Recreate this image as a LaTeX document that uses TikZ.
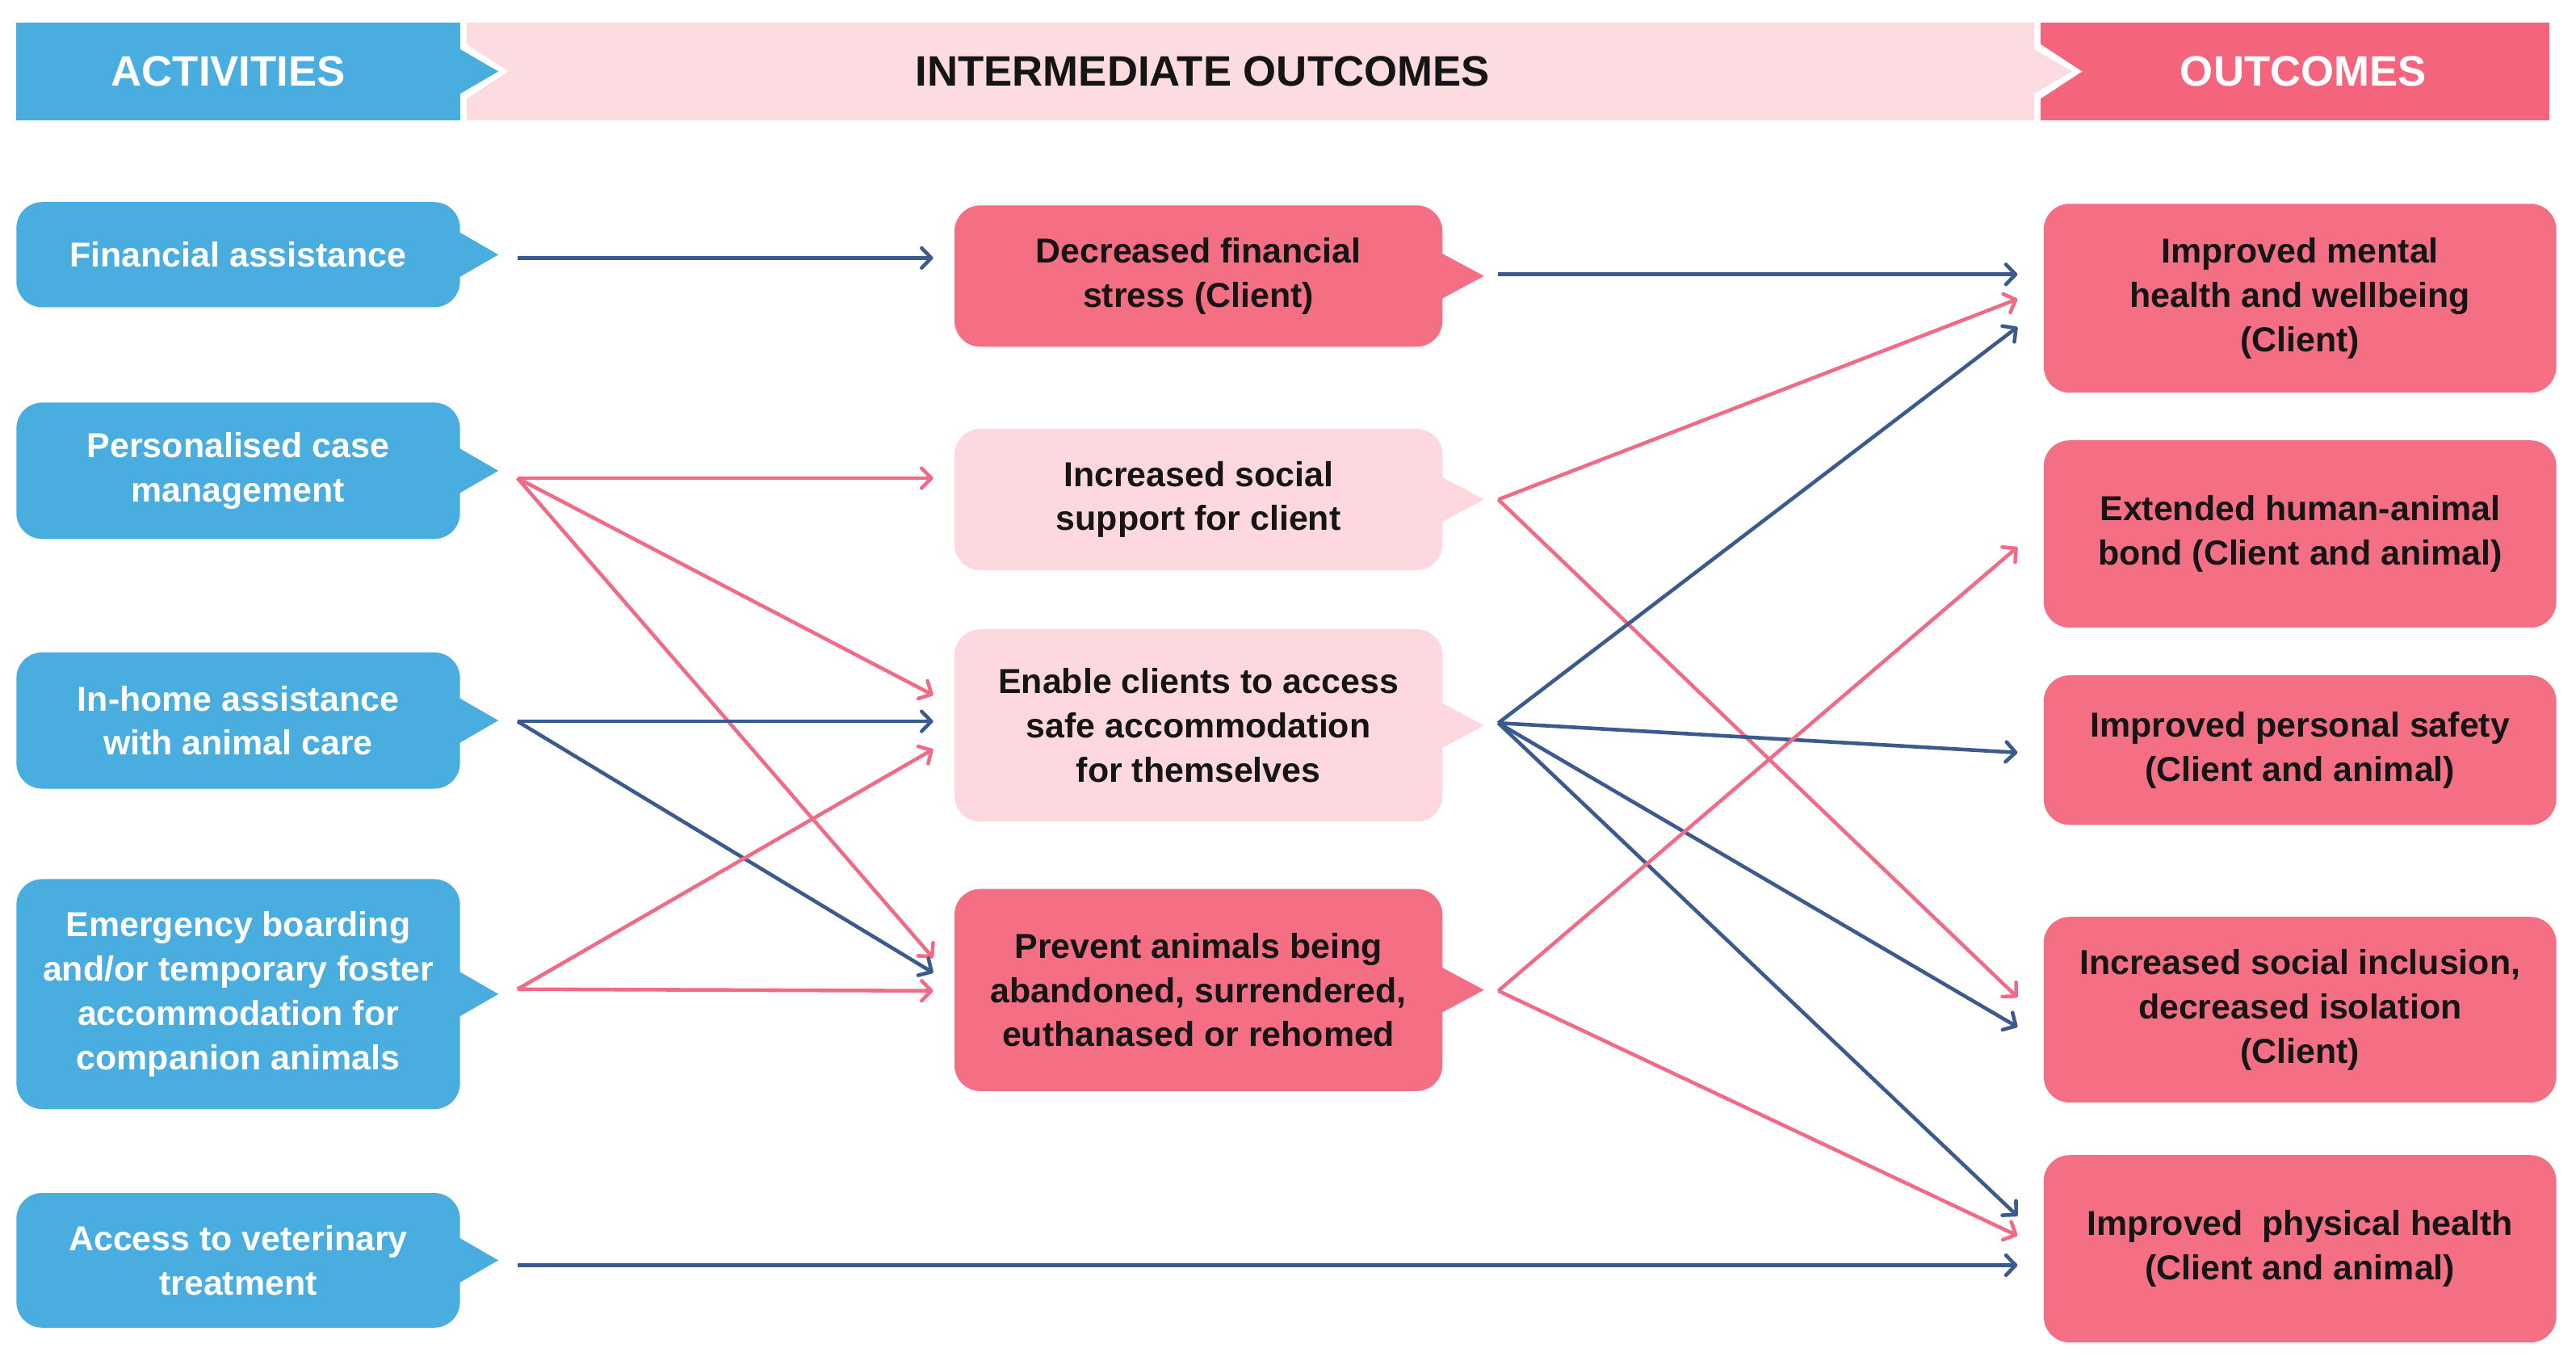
\documentclass[tikz,border=0pt]{standalone}
\usepackage{fontspec}
\setmainfont{Liberation Sans}
\usetikzlibrary{calc,arrows.meta}
\definecolor{actblue}{HTML}{4AADDF}
\definecolor{boxpink}{HTML}{F46E84}
\definecolor{lightpink}{HTML}{FDD8DE}
\definecolor{bandpink}{HTML}{FDDCE1}
\definecolor{outpink}{HTML}{F4647C}
\definecolor{navy}{HTML}{3B5B8F}
\definecolor{arrpink}{HTML}{F06B86}
\definecolor{ink}{HTML}{151515}
\begin{document}
\begin{tikzpicture}[x=0.02034cm,y=-0.02034cm,
  bx/.style 2 args={minimum width=#1*0.02034cm, minimum height=#2*0.02034cm},
  box/.style={inner sep=0pt, rounded corners=0.32cm, align=center,
    font=\fontsize{12.2}{15.6}\selectfont\bfseries},
  act/.style={box, fill=actblue, text=white},
  midd/.style={box, fill=boxpink, text=ink},
  midl/.style={box, fill=lightpink, text=ink},
  outc/.style={box, fill=boxpink, text=ink},
  hbox/.style={inner sep=0pt},
  hdr/.style={inner sep=0pt, font=\fontsize{15}{18}\selectfont\bfseries},
  lnb/.style={draw=navy, line width=1.3pt, -{Straight Barb[length=3.4pt,width=7pt,round]}},
  lnp/.style={draw=arrpink, line width=1.3pt, -{Straight Barb[length=3.4pt,width=7pt,round]}}]
\useasboundingbox (0,0) rectangle (1568,833);
% ---------- header ----------
\node[hbox, bx={954}{59}, fill=bandpink] (hI) at (761,43.5) {};
\node[hbox, bx={310}{59}, fill=outpink] (hO) at (1397,43.5) {};
\fill[white] ($(hI.east)+(0,-19)$) -- ($(hI.east)+(29,0)$) -- ($(hI.east)+(0,19)$) -- cycle;
\fill[bandpink] ($(hI.east)+(-1,-14)$) -- ($(hI.east)+(23,0)$) -- ($(hI.east)+(-1,14)$) -- cycle;
\node[hbox, bx={270}{59}, fill=actblue] (hA) at (145,43.5) {};
\fill[white] ($(hA.east)+(0,-19)$) -- ($(hA.east)+(29,0)$) -- ($(hA.east)+(0,19)$) -- cycle;
\fill[actblue] ($(hA.east)+(-1,-14)$) -- ($(hA.east)+(23,0)$) -- ($(hA.east)+(-1,14)$) -- cycle;
\node[hdr, text=white] (hAt) at (139,43.5) {ACTIVITIES};
\node[hdr, text=ink] (hIt) at (732,43.5) {INTERMEDIATE OUTCOMES};
\node[hdr, text=white] (hOt) at (1402,43.5) {OUTCOMES};
% ---------- activities ----------
\node[act, bx={270}{64}] (a1) at (145,155) {Financial assistance};
\node[act, bx={270}{83}] (a2) at (145,286.5) {Personalised case\\management};
\node[act, bx={270}{83}] (a3) at (145,438.5) {In-home assistance\\with animal care};
\node[act, bx={270}{140}] (a4) at (145,605) {Emergency boarding\\and/or temporary foster\\accommodation for\\companion animals};
\node[act, bx={270}{82}] (a5) at (145,767) {Access to veterinary\\treatment};
\foreach \n in {a1,a2,a3,a4,a5}
  \fill[actblue] ($(\n.east)+(-3,-15)$) -- ($(\n.east)+(23,0)$) -- ($(\n.east)+(-3,15)$) -- cycle;
% ---------- intermediate ----------
\node[midd, bx={297}{86}] (m1) at (729.5,168) {Decreased financial\\stress (Client)};
\node[midl, bx={297}{86}] (m2) at (729.5,304) {Increased social\\support for client};
\node[midl, bx={297}{117}] (m3) at (729.5,441.5) {Enable clients to access\\safe accommodation\\for themselves};
\node[midd, bx={297}{123}] (m4) at (729.5,602.5) {Prevent animals being\\abandoned, surrendered,\\euthanased or rehomed};
\foreach \n/\c in {m1/boxpink,m2/lightpink,m3/lightpink,m4/boxpink}
  \fill[\c] ($(\n.east)+(-3,-15)$) -- ($(\n.east)+(25,0)$) -- ($(\n.east)+(-3,15)$) -- cycle;
% ---------- outcomes ----------
\node[outc, bx={312}{115}] (c1) at (1400,181.5) {Improved mental\\health and wellbeing\\(Client)};
\node[outc, bx={312}{114}] (c2) at (1400,325) {Extended human-animal\\bond (Client and animal)};
\node[outc, bx={312}{91}] (c3) at (1400,456.5) {Improved personal safety\\(Client and animal)};
\node[outc, bx={312}{113}] (c4) at (1400,614.5) {Increased social inclusion,\\decreased isolation\\(Client)};
\node[outc, bx={312}{114}] (c5) at (1400,760) {Improved~ physical health\\(Client and animal)};
% ---------- connector ends ----------
\coordinate (a1o) at (315,157);
\coordinate (a2o) at (315,291);
\coordinate (a3o) at (315,439);
\coordinate (a4o) at (315,602);
\coordinate (a5o) at (315,770);
\coordinate (m1i) at (568,157);
\coordinate (m2i) at (568,291);
\coordinate (m3ia) at (568,423);
\coordinate (m3ib) at (568,439);
\coordinate (m3ic) at (568,456);
\coordinate (m4ia) at (568,583);
\coordinate (m4ib) at (568,592);
\coordinate (m4ic) at (568,603);
\coordinate (m1o) at (912,167);
\coordinate (m2o) at (912,304);
\coordinate (m3o) at (912,440);
\coordinate (m4o) at (912,603);
\coordinate (c1ia) at (1228,167);
\coordinate (c1ib) at (1228,182);
\coordinate (c1ic) at (1228,199);
\coordinate (c2i) at (1228,333);
\coordinate (c3i) at (1228,458);
\coordinate (c4ia) at (1228,607);
\coordinate (c4ib) at (1228,625);
\coordinate (c5ia) at (1228,740);
\coordinate (c5ib) at (1228,752);
\coordinate (c5ic) at (1228,770);
% ---------- connectors: activities -> intermediate ----------
\draw[lnb] (a1o) -- (m1i);
\draw[lnp] (a2o) -- (m2i);
\draw[lnp] (a2o) -- (m3ia);
\draw[lnp] (a2o) -- (m4ia);
\draw[lnb] (a3o) -- (m3ib);
\draw[lnb] (a3o) -- (m4ib);
\draw[lnp] (a4o) -- (m3ic);
\draw[lnp] (a4o) -- (m4ic);
\draw[lnb] (a5o) -- (c5ic);
% ---------- connectors: intermediate -> outcomes ----------
\draw[lnb] (m1o) -- (c1ia);
\draw[lnp] (m2o) -- (c1ib);
\draw[lnp] (m2o) -- (c4ia);
\draw[lnb] (m3o) -- (c1ic);
\draw[lnb] (m3o) -- (c3i);
\draw[lnb] (m3o) -- (c4ib);
\draw[lnb] (m3o) -- (c5ia);
\draw[lnp] (m4o) -- (c2i);
\draw[lnp] (m4o) -- (c5ib);
\end{tikzpicture}
\end{document}
